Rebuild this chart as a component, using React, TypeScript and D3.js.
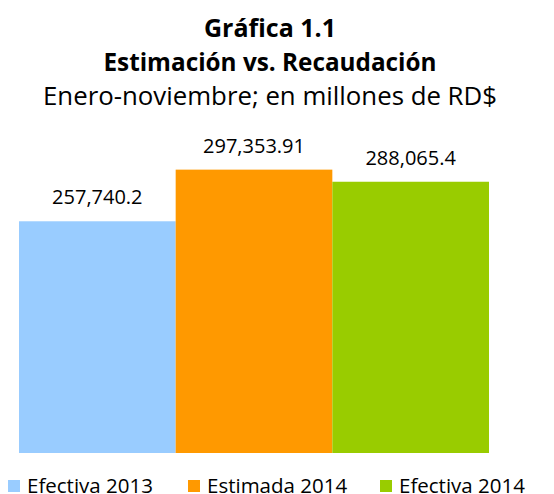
import React, { useEffect, useRef } from 'react';
import * as d3 from 'd3';

// chart data
const categories = ['Efectiva 2013', 'Estimada 2014', 'Efectiva 2014'];
const values = [257740.2, 297353.91, 288065.4];
const labels = ['257,740.2', '297,353.91', '288,065.4'];
const colors = ['#99CCFF', '#FF9900', '#99CC00'];
const titleLines = ['Gráfica 1.1', 'Estimación vs. Recaudación', 'Enero-noviembre; en millones de RD$'];

function App() {
    const svgRef = useRef<SVGSVGElement>(null);

    useEffect(() => {
        const width = 554;
        const height = 494;
        const font = '"Open Sans", sans-serif';

        const svg = d3.select(svgRef.current)
            .attr('width', width)
            .attr('height', height);
        svg.selectAll('*').remove();

        // titles
        const titleY = [37, 71, 105];
        const titleSize = [25, 24.3, 25.8];
        svg.selectAll('.title')
            .data(titleLines)
            .enter()
            .append('text')
            .attr('class', 'title')
            .attr('x', 270)
            .attr('y', (d, i) => titleY[i])
            .attr('text-anchor', 'middle')
            .style('font-family', font)
            .style('font-size', (d, i) => `${titleSize[i]}px`)
            .style('font-weight', (d, i) => (i < 2 ? 'bold' : 'normal'))
            .style('fill', '#000')
            .text(d => d);

        // scales (value axis does not start at zero in the original)
        const x = d3.scaleBand()
            .domain(categories)
            .range([19, 489])
            .padding(0);

        const y = d3.scaleLinear()
            .domain([80000, 350000])
            .range([453, 101]);

        svg.selectAll('.bar')
            .data(values)
            .enter()
            .append('rect')
            .attr('class', 'bar')
            .attr('x', (d, i) => x(categories[i]))
            .attr('y', d => y(d))
            .attr('width', x.bandwidth())
            .attr('height', d => y.range()[0] - y(d))
            .style('fill', (d, i) => colors[i]);

        // value labels
        svg.selectAll('.label')
            .data(values)
            .enter()
            .append('text')
            .attr('class', 'label')
            .attr('x', (d, i) => x(categories[i]) + x.bandwidth() / 2)
            .attr('y', d => y(d) - 17)
            .attr('text-anchor', 'middle')
            .style('font-family', font)
            .style('font-size', '20px')
            .style('fill', '#000')
            .text((d, i) => labels[i]);

        // legend
        const legendX = [8, 188, 380];
        const legend = svg.selectAll('.legend')
            .data(categories)
            .enter()
            .append('g')
            .attr('class', 'legend')
            .attr('transform', (d, i) => `translate(${legendX[i]},480)`);

        legend.append('rect')
            .attr('width', 12)
            .attr('height', 12)
            .style('fill', (d, i) => colors[i]);

        legend.append('text')
            .attr('x', 19)
            .attr('y', 12.5)
            .style('font-family', font)
            .style('font-size', '20.5px')
            .style('fill', '#000')
            .text(d => d);
    }, []);

    return <svg ref={svgRef} style={{ position: 'absolute', left: 0, top: 0 }}></svg>;
}

export default App;
